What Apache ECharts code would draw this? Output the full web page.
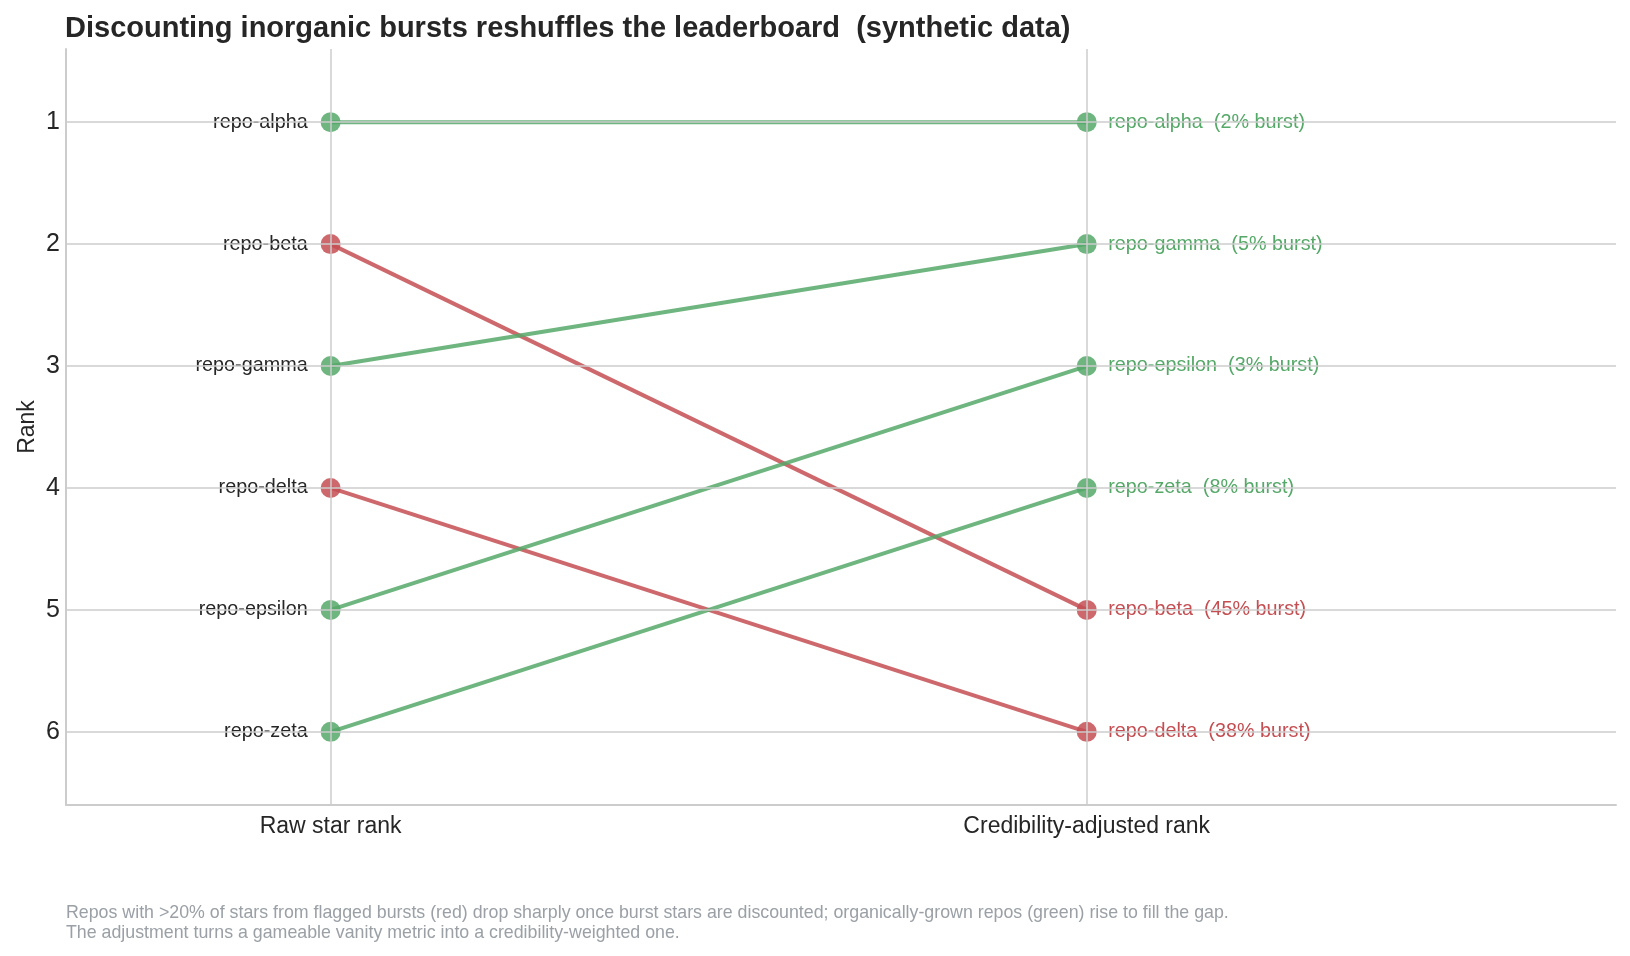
<!DOCTYPE html>
<html>
<head>
<meta charset="utf-8">
<script src="https://cdn.jsdelivr.net/npm/echarts@6/dist/echarts.min.js"></script>
<style>
  html, body { margin: 0; padding: 0; background: #fff; }
  #chart { width: 1630px; height: 956px; }
</style>
</head>
<body>
<div id="chart"></div>
<script>
// chart data
const repos = ['repo-alpha', 'repo-beta', 'repo-gamma', 'repo-delta', 'repo-epsilon', 'repo-zeta'];
const rawRank = [1, 2, 3, 4, 5, 6];
const adjustedRank = [1, 5, 2, 6, 3, 4];
const burstPct = [2, 45, 5, 38, 3, 8];
const stageLabels = ['Raw star rank', 'Credibility-adjusted rank'];
const rankTicks = [1, 2, 3, 4, 5, 6];

const FONT = '"Liberation Sans", Arial, sans-serif';
const GREEN = '#55A868';
const RED = '#C44E52';
const GREEN_A = 'rgba(85, 168, 104, 0.85)';
const RED_A = 'rgba(196, 78, 82, 0.85)';
const GRID = '#cccccc';
const DARK = '#262626';

const chart = echarts.init(document.getElementById('chart'));

const guideSeries = {
  type: 'line',
  data: [],
  z: 1,
  silent: true,
  markLine: {
    silent: true,
    symbol: 'none',
    label: {show: false},
    animation: false,
    lineStyle: {color: GRID, width: 1.5, type: 'solid'},
    data: [
      ...rankTicks.map((r) => ({yAxis: r})),
      ...stageLabels.map((_, i) => ({xAxis: i})),
    ],
  },
};

const repoSeries = repos.map((name, i) => {
  const flagged = burstPct[i] > 20;
  const color = flagged ? RED : GREEN;
  const fill = flagged ? RED_A : GREEN_A;
  return {
    name,
    type: 'line',
    z: 3,
    symbol: 'circle',
    symbolSize: 20,
    lineStyle: {color: fill, width: 4},
    itemStyle: {color: fill},
    emphasis: {disabled: true},
    data: [
      {
        value: [0, rawRank[i]],
        label: {
          show: true,
          position: 'left',
          distance: 13,
          formatter: name,
          color: DARK,
          fontSize: 19.8,
          fontFamily: FONT,
        },
      },
      {
        value: [1, adjustedRank[i]],
        label: {
          show: true,
          position: 'right',
          distance: 11.5,
          formatter: `${name}  (${burstPct[i]}% burst)`,
          color,
          fontSize: 19.8,
          fontFamily: FONT,
        },
      },
    ],
  };
});

const option = {
  animation: false,
  backgroundColor: '#ffffff',
  textStyle: {fontFamily: FONT},
  title: [
    {
      text: 'Discounting inorganic bursts reshuffles the leaderboard  (synthetic data)',
      left: 65,
      top: 14,
      padding: 0,
      textStyle: {fontSize: 29, fontWeight: 'bold', color: DARK, fontFamily: FONT},
    },
    {
      text: 'Repos with >20% of stars from flagged bursts (red) drop sharply once burst stars are discounted; organically-grown repos (green) rise to fill the gap.\nThe adjustment turns a gameable vanity metric into a credibility-weighted one.',
      left: 66,
      top: 903,
      padding: 0,
      textStyle: {fontSize: 17.8, lineHeight: 20, fontWeight: 'normal', color: '#9aa0a6', fontFamily: FONT},
    },
  ],
  grid: {left: 66, right: 14, top: 49, bottom: 151, containLabel: false, outerBoundsMode: 'none'},
  xAxis: {
    type: 'value',
    min: -0.35,
    max: 1.7,
    interval: 0.05,
    axisLine: {show: true, onZero: false, lineStyle: {color: GRID, width: 2}},
    axisTick: {show: false},
    splitLine: {show: false},
    axisLabel: {
      margin: 10,
      fontSize: 23,
      color: DARK,
      fontFamily: FONT,
      showMinLabel: false,
      showMaxLabel: false,
      formatter: (v) => {
        for (let i = 0; i < stageLabels.length; i++) {
          if (Math.abs(v - i) < 1e-6) return stageLabels[i];
        }
        return '';
      },
    },
  },
  yAxis: {
    type: 'value',
    inverse: true,
    min: 0.4,
    max: 6.6,
    interval: 0.2,
    name: 'Rank',
    nameLocation: 'middle',
    nameRotate: 90,
    nameGap: 27,
    nameMoveOverlap: false,
    nameTextStyle: {fontSize: 23, color: DARK, fontFamily: FONT},
    axisLine: {show: true, onZero: false, lineStyle: {color: GRID, width: 2}},
    axisTick: {show: false},
    splitLine: {show: false},
    axisLabel: {
      margin: 6,
      fontSize: 25,
      color: DARK,
      fontFamily: FONT,
      formatter: (v) => {
        const r = Math.round(v);
        return Math.abs(v - r) < 1e-6 && rankTicks.includes(r) ? String(r) : '';
      },
    },
  },
  series: [guideSeries, ...repoSeries],
};

chart.setOption(option);
</script>
</body>
</html>
